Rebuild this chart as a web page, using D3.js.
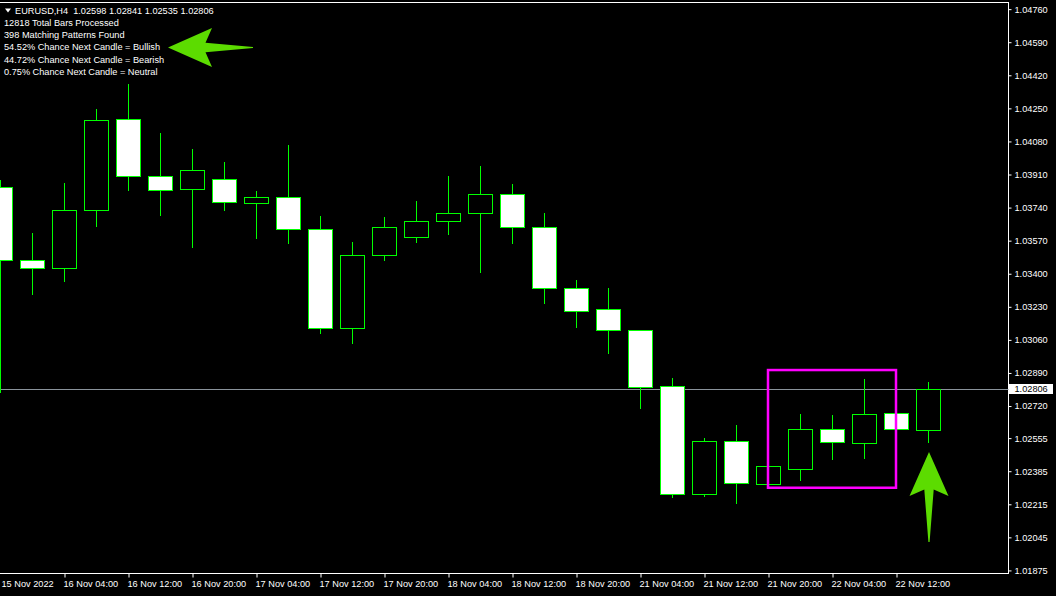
<!DOCTYPE html>
<html>
<head>
<meta charset="utf-8">
<script src="https://cdnjs.cloudflare.com/ajax/libs/d3/7.8.5/d3.min.js"></script>
<style>
    body { margin: 0; background: #000; }
    svg { display: block; }
    text { font-family: "Liberation Sans", Arial, sans-serif; font-size: 9.2px; fill: #fff; }
</style>
</head>
<body>
<svg id="drawingSpace" width="1056" height="596"></svg>
<script>
//bar data (EURUSD H4)
var barTimes = ["2022-11-15 20:00", "2022-11-16 00:00", "2022-11-16 04:00", "2022-11-16 08:00", "2022-11-16 12:00",
    "2022-11-16 16:00", "2022-11-16 20:00", "2022-11-17 00:00", "2022-11-17 04:00", "2022-11-17 08:00",
    "2022-11-17 12:00", "2022-11-17 16:00", "2022-11-17 20:00", "2022-11-18 00:00", "2022-11-18 04:00",
    "2022-11-18 08:00", "2022-11-18 12:00", "2022-11-18 16:00", "2022-11-18 20:00", "2022-11-21 00:00",
    "2022-11-21 04:00", "2022-11-21 08:00", "2022-11-21 12:00", "2022-11-21 16:00", "2022-11-21 20:00",
    "2022-11-22 00:00", "2022-11-22 04:00", "2022-11-22 08:00", "2022-11-22 12:00", "2022-11-22 16:00"];
var opens = [1.03846, 1.03469, 1.03428, 1.03726, 1.04194, 1.03904, 1.03834, 1.03885, 1.03762, 1.03793,
    1.03628, 1.03120, 1.03495, 1.03587, 1.03670, 1.03711, 1.03808, 1.03639, 1.03325, 1.03217,
    1.03109, 1.02821, 1.02266, 1.02539, 1.02318, 1.02395, 1.02600, 1.02528, 1.02683, 1.02598];
var highs = [1.03882, 1.03608, 1.03865, 1.04245, 1.04375, 1.04123, 1.04040, 1.03973, 1.03824, 1.04062,
    1.03697, 1.03563, 1.03692, 1.03774, 1.03902, 1.03954, 1.03861, 1.03712, 1.03368, 1.03327,
    1.03109, 1.02863, 1.02554, 1.02621, 1.02412, 1.02679, 1.02672, 1.02857, 1.02689, 1.02841];
var lows = [1.02792, 1.03297, 1.03364, 1.03647, 1.03832, 1.03703, 1.03539, 1.03729, 1.03585, 1.03560,
    1.03097, 1.03046, 1.03472, 1.03565, 1.03606, 1.03411, 1.03560, 1.03251, 1.03128, 1.02994,
    1.02711, 1.02254, 1.02259, 1.02220, 1.02316, 1.02341, 1.02449, 1.02454, 1.02592, 1.02535];
var closes = [1.03471, 1.03428, 1.03726, 1.04189, 1.03901, 1.03829, 1.03932, 1.03767, 1.03793, 1.03628,
    1.03120, 1.03495, 1.03639, 1.03670, 1.03711, 1.03808, 1.03639, 1.03325, 1.03207, 1.03109,
    1.02816, 1.02266, 1.02539, 1.02323, 1.02410, 1.02600, 1.02534, 1.02677, 1.02600, 1.02806];

//axis ticks
var priceTicks = [1.04760, 1.04590, 1.04420, 1.04250, 1.04080, 1.03910, 1.03740, 1.03570, 1.03400,
    1.03230, 1.03060, 1.02890, 1.02720, 1.02555, 1.02385, 1.02215, 1.02045, 1.01875];
var timeTicks = ["2022-11-15 20:00", "2022-11-16 04:00", "2022-11-16 12:00", "2022-11-16 20:00",
    "2022-11-17 04:00", "2022-11-17 12:00", "2022-11-17 20:00", "2022-11-18 04:00", "2022-11-18 12:00",
    "2022-11-18 20:00", "2022-11-21 04:00", "2022-11-21 12:00", "2022-11-21 20:00", "2022-11-22 04:00",
    "2022-11-22 12:00"];

//texts in the upper left corner
var symbolLine = "EURUSD,H4  1.02598 1.02841 1.02535 1.02806";
var infoLines = ["12818 Total Bars Processed", "398 Matching Patterns Found",
    "54.52% Chance Next Candle = Bullish", "44.72% Chance Next Candle = Bearish",
    "0.75% Chance Next Candle = Neutral"];

//current bid and the highlighted pattern
var currentPrice = 1.02806;
var patternFrom = "2022-11-21 20:00", patternTo = "2022-11-22 12:00",
    patternTop = 1.02905, patternBottom = 1.02300;

var svg = d3.select("#drawingSpace"),
    width = +svg.attr("width"),
    height = +svg.attr("height"),
    plotRight = 1008.5,   //right frame line
    plotBottom = 573.5,   //bottom frame line
    candleColor = "#00ff00",
    arrowColor = "#5cdc00";

svg.append("rect").attr("width", width).attr("height", height).attr("fill", "#000");

var bars = barTimes.map(function (t, i) {
    return {t: t, o: opens[i], h: highs[i], l: lows[i], c: closes[i]};
});

//scales
var x = d3.scalePoint().domain(barTimes).range([0, 928]);
var y = d3.scaleLinear().domain([1.018618, 1.04807]).range([573, 0]);

var parseTime = d3.timeParse("%Y-%m-%d %H:%M");
var fmtFirst = d3.timeFormat("%d %b %Y"),
    fmtTime = d3.timeFormat("%d %b %H:%M");

function snap(v) {
    return Math.round(v) + 0.5;
}

//frame
svg.append("rect")
    .attr("x", -0.5).attr("y", 2.5)
    .attr("width", plotRight + 0.5).attr("height", plotBottom - 2.5)
    .attr("fill", "none").attr("stroke", "#fff");

//current price line
svg.append("line")
    .attr("x1", 0).attr("x2", plotRight)
    .attr("y1", snap(y(currentPrice))).attr("y2", snap(y(currentPrice)))
    .attr("stroke", "#8a939b");

//candles
var candle = svg.append("g").attr("class", "candles")
    .selectAll("g").data(bars).enter().append("g");

candle.append("line")
    .attr("x1", function (d) { return x(d.t) + 0.5; })
    .attr("x2", function (d) { return x(d.t) + 0.5; })
    .attr("y1", function (d) { return Math.round(y(d.h)); })
    .attr("y2", function (d) { return Math.round(y(d.l)) + 1; })
    .attr("stroke", candleColor);

candle.append("rect")
    .attr("x", function (d) { return x(d.t) - 11.5; })
    .attr("width", 24)
    .attr("y", function (d) { return snap(y(Math.max(d.o, d.c))); })
    .attr("height", function (d) {
        return Math.max(1, Math.round(y(Math.min(d.o, d.c))) - Math.round(y(Math.max(d.o, d.c))));
    })
    .attr("fill", function (d) { return d.c >= d.o ? "#000" : "#fff"; }) //bull hollow, bear white
    .attr("stroke", candleColor);

//pattern box
svg.append("rect")
    .attr("x", x(patternFrom))
    .attr("y", y(patternTop))
    .attr("width", x(patternTo) - x(patternFrom))
    .attr("height", y(patternBottom) - y(patternTop))
    .attr("fill", "none")
    .attr("stroke", "#ff00ff")
    .attr("stroke-width", 2.5);

//right price axis
var yAxis = svg.append("g")
    .attr("transform", "translate(" + plotRight + ",0)")
    .call(d3.axisRight(y).tickValues(priceTicks).tickSize(3).tickPadding(3).tickFormat(d3.format(".5f")));
yAxis.select(".domain").remove();
yAxis.selectAll("line").attr("stroke", "#fff");
yAxis.selectAll("text").attr("fill", "#fff").attr("font-family", null).attr("font-size", null);

//bid label on the axis
var bidY = y(currentPrice);
svg.append("rect")
    .attr("x", plotRight + 0.5).attr("y", Math.round(bidY) - 5)
    .attr("width", 44).attr("height", 10)
    .attr("fill", "#fff");
svg.append("text")
    .attr("x", plotRight + 6).attr("y", bidY).attr("dy", "0.34em")
    .style("fill", "#000")
    .text(d3.format(".5f")(currentPrice));

//bottom time axis
var xAxis = svg.append("g")
    .attr("transform", "translate(0," + plotBottom + ")")
    .call(d3.axisBottom(x).tickValues(timeTicks).tickSize(4).tickFormat(function (d, i) {
        return i === 0 ? fmtFirst(parseTime(d)) : fmtTime(parseTime(d));
    }));
xAxis.select(".domain").remove();
xAxis.selectAll("line").attr("stroke", "#fff")
    .attr("transform", "translate(0.5,0)")
    .attr("display", function (d, i) { return i === 0 ? "none" : null; });
xAxis.selectAll("text")
    .attr("fill", "#fff").attr("font-family", null).attr("font-size", null)
    .attr("text-anchor", "start")
    .attr("x", function (d, i) { return i === 0 ? 1 : -1; })
    .attr("y", 13).attr("dy", null);

//header: symbol line with small triangle
svg.append("path")
    .attr("d", "M5,8.5 L11,8.5 L8,12.5 Z")
    .attr("fill", "#fff");
svg.append("text").attr("x", 15).attr("y", 13.5).attr("xml:space", "preserve").text(symbolLine);

svg.append("g").selectAll("text")
    .data(infoLines).enter().append("text")
    .attr("x", 4)
    .attr("y", function (d, i) { return 26 + i * 12.2; })
    .text(function (d) { return d; });

//arrows: tip, barbs, inner shoulders and a thin tapering tail
function arrowPath(tipX, tipY, angle, len) {
    var pts = [[0, 0], [19.5, 44], [4.7, 37.5], [0.6, len], [-0.6, len], [-4.7, 37.5], [-19.5, 44]];
    var a = angle * Math.PI / 180;
    return d3.line()(pts.map(function (p) {
        return [tipX + p[0] * Math.cos(a) - p[1] * Math.sin(a), tipY + p[0] * Math.sin(a) + p[1] * Math.cos(a)];
    })) + "Z";
}

//pointing left at the bullish line
svg.append("path").attr("d", arrowPath(168, 47.5, -90, 85)).attr("fill", arrowColor);
//pointing up at the last candle
svg.append("path").attr("d", arrowPath(x(barTimes[29]) + 1, y(1.02484), 0, 90)).attr("fill", arrowColor);
</script>
</body>
</html>
